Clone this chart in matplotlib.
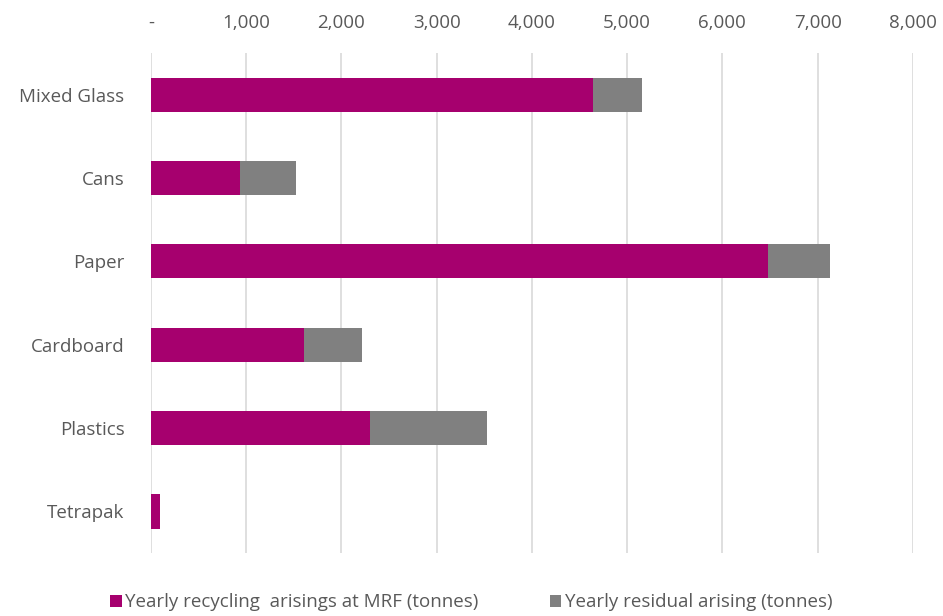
import matplotlib.pyplot as plt
from matplotlib.ticker import FuncFormatter

materials = ['Mixed Glass', 'Cans', 'Paper', 'Cardboard', 'Plastics', 'Tetrapak']
recycling = [4645, 935, 6475, 1607, 2300, 100]   # tonnes at MRF
residual = [515, 588, 655, 609, 1230, 0]         # tonnes residual

plt.rcParams['font.family'] = ['Open Sans', 'DejaVu Sans']

fig = plt.figure(figsize=(9.43, 6.16), dpi=100)
ax = fig.add_axes([0.160, 0.102, 0.808, 0.812])

pos = range(len(materials))
ax.barh(pos, recycling, height=0.41, color='#A6006E', label='Yearly recycling  arisings at MRF (tonnes)', zorder=3)
ax.barh(pos, residual, height=0.41, left=recycling, color='#808080', label='Yearly residual arising (tonnes)', zorder=3)

ax.set_yticks(list(pos))
ax.set_yticklabels(materials)
ax.set_ylim(5.5, -0.5)
ax.set_xlim(0, 8000)
ax.set_xticks(range(0, 8001, 1000))
ax.xaxis.set_major_formatter(FuncFormatter(lambda v, p: '-' if v == 0 else f'{int(v):,}'))
ax.xaxis.tick_top()
ax.tick_params(axis='x', length=0, pad=15, labelsize=13.5, colors='#595959')
ax.tick_params(axis='y', length=0, pad=19, labelsize=13.5, colors='#595959')
ax.grid(axis='x', color='#d9d9d9', linewidth=1.2, zorder=0)
for s in ax.spines.values():
    s.set_visible(False)

fig.legend(loc='center', bbox_to_anchor=(0.5, 0.022), ncol=2, frameon=False,
           fontsize=13.5, labelcolor='#595959', handlelength=0.6, handleheight=0.6,
           handletextpad=0.2, columnspacing=3.8)

fig.savefig('out.png', dpi=100)
